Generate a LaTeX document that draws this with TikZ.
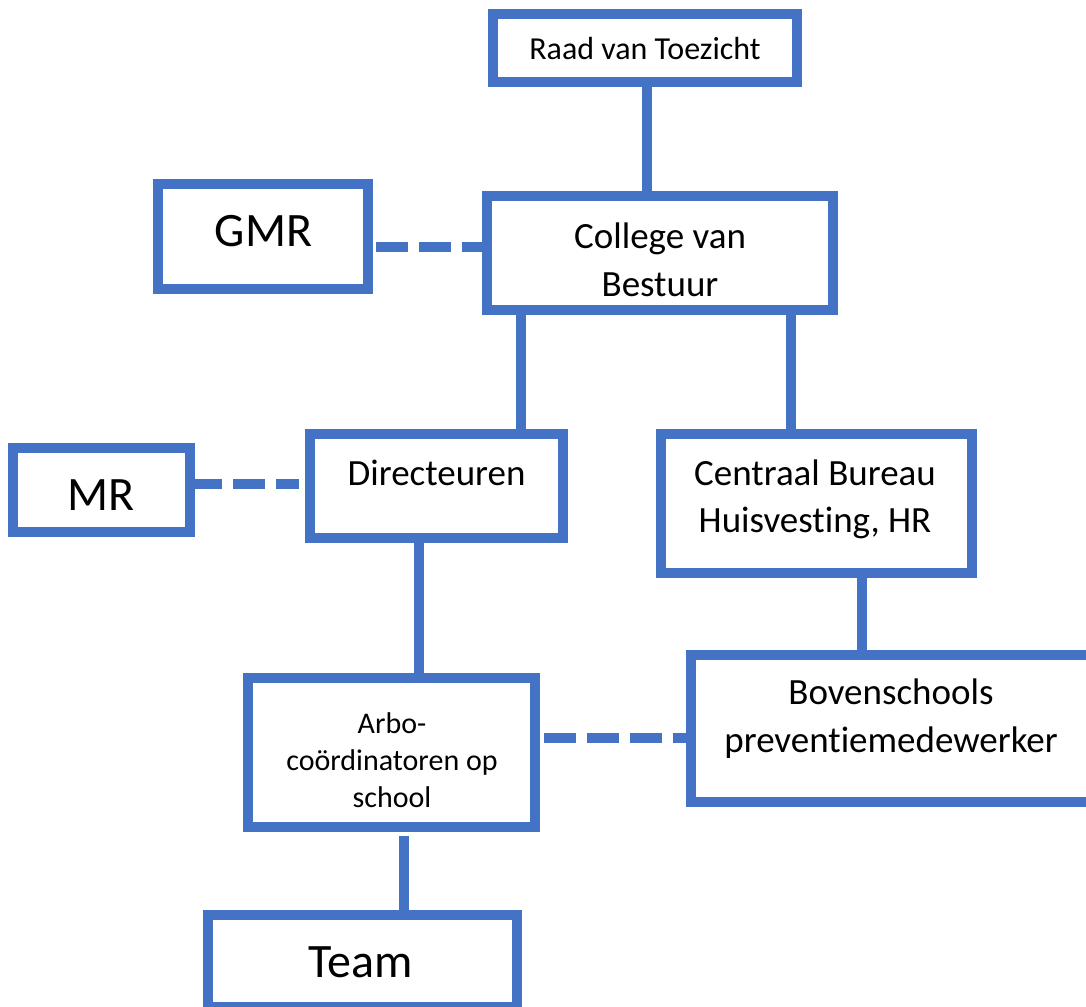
\documentclass[tikz,border=0pt]{standalone}
\usepackage{fontspec}
\setmainfont{Carlito}[Ligatures=CommonOff]
\definecolor{obox}{HTML}{4472C4}
\begin{document}
\begin{tikzpicture}[x=1pt,y=-1pt,
  box/.style={draw=obox,line width=10pt,rectangle,inner sep=0pt,outer sep=0pt,fill=white},
  conn/.style={draw=obox,line width=10pt},
  dconn/.style={conn,dash pattern=on 32pt off 11pt},
  txt/.style={inner sep=0pt,align=center,text=black},
  bigfont/.style={font=\fontsize{48}{56}\selectfont},
  midfont/.style={font=\fontsize{37}{48}\selectfont},
  smallfont/.style={font=\fontsize{30}{37}\selectfont},
  raadfont/.style={font=\fontsize{32}{38}\selectfont}]
\useasboundingbox (0,0) rectangle (1086,1006);
\clip (0,0) rectangle (1086,1006);
\fill[white] (0,0) rectangle (1086,1006);
% boxes
\node[box,minimum width=304pt,minimum height=68pt] (raad) at (645,48) {};
\node[box,minimum width=346pt,minimum height=114pt] (college) at (660,253) {};
\node[box,minimum width=210pt,minimum height=105pt] (gmr) at (263,236.5) {};
\node[box,minimum width=253pt,minimum height=104pt] (dir) at (436.5,486) {};
\node[box,minimum width=177pt,minimum height=84pt] (mr) at (101.5,490) {};
\node[box,minimum width=311pt,minimum height=139pt] (cb) at (816.5,503.5) {};
\node[box,minimum width=409pt,minimum height=147pt] (bov) at (895.5,728.5) {};
\node[box,minimum width=287pt,minimum height=149pt] (arbo) at (391.5,752.5) {};
\node[box,minimum width=309pt,minimum height=92pt] (team) at (362.5,961) {};
% texts
\node[txt,raadfont] (traad) at (645,49) {Raad van Toezicht};
\node[txt,bigfont] (tgmr) at (263.5,231) {GMR};
\node[txt,midfont] (tcollege) at (660,260) {College van\\Bestuur};
\node[txt,midfont] (tdir) at (436.5,473) {Directeuren};
\node[txt,bigfont] (tmr) at (101.5,495) {MR};
\node[txt,font=\fontsize{37}{47}\selectfont] (tcb) at (815,499) {Centraal Bureau\\Huisvesting, HR};
\node[txt,midfont] (tbov) at (891,719) {Bovenschools\\preventiemedewerker};
\node[txt,smallfont] (tarbo) at (392,760) {Arbo-\\coördinatoren op\\school};
\node[txt,bigfont] (tteam) at (361,962) {Team};
% connector positions
\coordinate (x1) at (647,0);
\coordinate (x2) at (521,0);
\coordinate (x3) at (791,0);
\coordinate (x4) at (419,0);
\coordinate (x5) at (862,0);
\coordinate (x6) at (404,0);
\coordinate (y1) at (0,247);
\coordinate (y2) at (0,484);
\coordinate (y3) at (0,738);
% solid connectors
\draw[conn] (raad.south -| x1) -- (college.north -| x1);
\draw[conn] (college.south -| x2) -- (dir.north -| x2);
\draw[conn] (college.south -| x3) -- (cb.north -| x3);
\draw[conn] (dir.south -| x4) -- (arbo.north -| x4);
\draw[conn] (cb.south -| x5) -- (bov.north -| x5);
\draw[conn] ([yshift=-9pt]arbo.south -| x6) -- (team.north -| x6);
% dashed connectors
\draw[dconn,dash phase=35pt] (gmr.east |- y1) -- (college.west |- y1);
\draw[dconn] (mr.east |- y2) -- ([xshift=-11pt]dir.west |- y2);
\draw[dconn,dash phase=34pt] (arbo.east |- y3) -- (bov.west |- y3);
\end{tikzpicture}
\end{document}
